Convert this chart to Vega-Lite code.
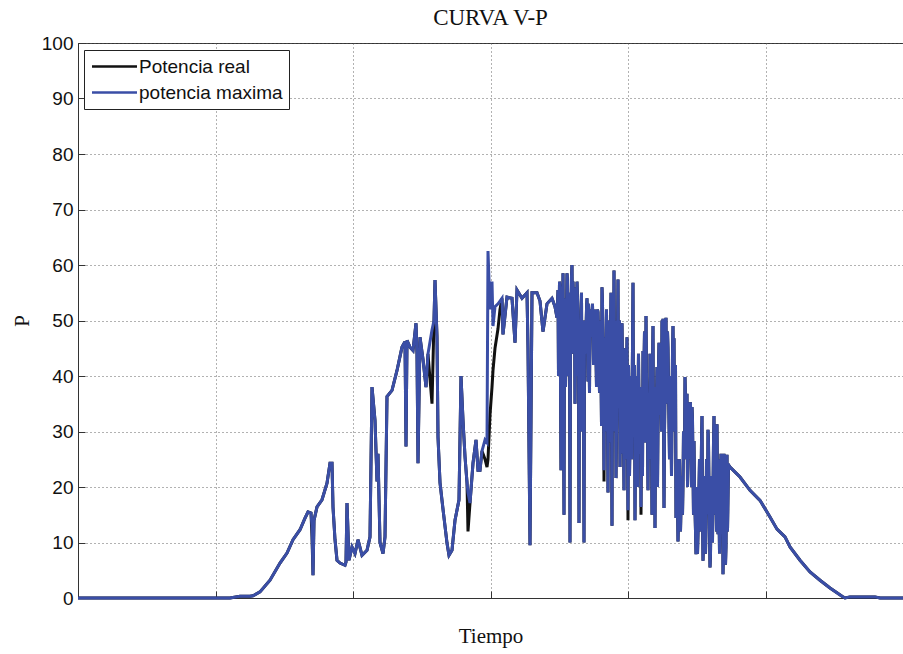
{
  "$schema": "https://vega.github.io/schema/vega-lite/v6.json",
  "width": 825,
  "height": 555,
  "autosize": {"type": "none"},
  "padding": {"left": 78, "top": 43, "right": 0, "bottom": 56},
  "background": "white",
  "title": {"text": "CURVA V-P", "font": "Liberation Serif", "fontSize": 23, "fontWeight": "normal", "color": "#111", "anchor": "middle", "offset": 4},
  "config": {
    "view": {"stroke": "#333", "strokeWidth": 1},
    "axis": {
      "domainColor": "#333", "tickColor": "#333", "gridColor": "#555", "gridDash": [1, 3], "gridWidth": 1, "gridOpacity": 0.9,
      "labelFont": "Liberation Sans", "labelFontSize": 19, "labelColor": "#111",
      "titleFont": "Liberation Serif", "titleFontSize": 21, "titleFontWeight": "normal", "titleColor": "#111"
    },
    "legend": {
      "orient": "none", "legendX": 6, "legendY": 7, "fillColor": "white", "strokeColor": "#222", "padding": 6,
      "labelFont": "Liberation Sans", "labelFontSize": 19, "labelColor": "#111", "labelOffset": 14,
      "symbolType": "M-2.5,0H2.5", "symbolSize": 324, "symbolOffset": 14, "symbolStrokeWidth": 2.5, "rowPadding": 5, "title": null
    }
  },
  "data": {"values": [
    {"t": 0, "real": 0, "maxima": 0},
    {"t": 304, "real": 0, "maxima": 0},
    {"t": 324, "real": 0.3, "maxima": 0.3},
    {"t": 344, "real": 0.3, "maxima": 0.3},
    {"t": 350, "real": 0.4, "maxima": 0.4},
    {"t": 364, "real": 1.1, "maxima": 1.1},
    {"t": 384, "real": 3.2, "maxima": 3.2},
    {"t": 404, "real": 6.3, "maxima": 6.3},
    {"t": 418, "real": 8.1, "maxima": 8.1},
    {"t": 430, "real": 10.5, "maxima": 10.5},
    {"t": 444, "real": 12.3, "maxima": 12.3},
    {"t": 454, "real": 14.4, "maxima": 14.4},
    {"t": 460, "real": 15.5, "maxima": 15.5},
    {"t": 466, "real": 15.3, "maxima": 15.3},
    {"t": 468, "real": 11, "maxima": 13},
    {"t": 470, "real": 4.1, "maxima": 4.1},
    {"t": 472, "real": 14, "maxima": 14},
    {"t": 478, "real": 16.4, "maxima": 16.4},
    {"t": 488, "real": 17.7, "maxima": 17.7},
    {"t": 498, "real": 20.7, "maxima": 20.7},
    {"t": 504, "real": 24.3, "maxima": 24.3},
    {"t": 508, "real": 24.3, "maxima": 24.3},
    {"t": 510, "real": 16.4, "maxima": 16.4},
    {"t": 514, "real": 10.5, "maxima": 10.5},
    {"t": 518, "real": 6.8, "maxima": 6.8},
    {"t": 524, "real": 6.3, "maxima": 6.3},
    {"t": 534, "real": 5.9, "maxima": 5.9},
    {"t": 536, "real": 6.5, "maxima": 6.5},
    {"t": 538, "real": 17.1, "maxima": 17.1},
    {"t": 542, "real": 6.8, "maxima": 6.8},
    {"t": 548, "real": 9.2, "maxima": 9.2},
    {"t": 554, "real": 8, "maxima": 8},
    {"t": 560, "real": 10.5, "maxima": 10.5},
    {"t": 568, "real": 7.7, "maxima": 7.7},
    {"t": 578, "real": 8.6, "maxima": 8.6},
    {"t": 584, "real": 11, "maxima": 11},
    {"t": 588, "real": 38, "maxima": 38},
    {"t": 594, "real": 32, "maxima": 32},
    {"t": 598, "real": 21, "maxima": 21},
    {"t": 600, "real": 26, "maxima": 26},
    {"t": 604, "real": 10, "maxima": 10},
    {"t": 610, "real": 8, "maxima": 8},
    {"t": 614, "real": 11, "maxima": 11},
    {"t": 618, "real": 36.3, "maxima": 36.3},
    {"t": 628, "real": 37.4, "maxima": 37.4},
    {"t": 638, "real": 41, "maxima": 41},
    {"t": 648, "real": 45.2, "maxima": 45.2},
    {"t": 654, "real": 46.2, "maxima": 46.2},
    {"t": 656, "real": 27.3, "maxima": 27.3},
    {"t": 658, "real": 46.4, "maxima": 46.4},
    {"t": 664, "real": 45.2, "maxima": 45.2},
    {"t": 670, "real": 44.6, "maxima": 44.6},
    {"t": 676, "real": 49.5, "maxima": 49.5},
    {"t": 678, "real": 44, "maxima": 44},
    {"t": 680, "real": 24.3, "maxima": 24.3},
    {"t": 684, "real": 47, "maxima": 47},
    {"t": 690, "real": 43, "maxima": 43},
    {"t": 696, "real": 38, "maxima": 38},
    {"t": 700, "real": 44, "maxima": 44},
    {"t": 708, "real": 35, "maxima": 48.3},
    {"t": 712, "real": 50, "maxima": 50},
    {"t": 714, "real": 57.3, "maxima": 57.3},
    {"t": 718, "real": 47, "maxima": 47},
    {"t": 720, "real": 29, "maxima": 29},
    {"t": 724, "real": 20.8, "maxima": 20.8},
    {"t": 730, "real": 16, "maxima": 16},
    {"t": 738, "real": 9.9, "maxima": 9.9},
    {"t": 742, "real": 7.7, "maxima": 7.7},
    {"t": 748, "real": 8.6, "maxima": 8.6},
    {"t": 754, "real": 14, "maxima": 14},
    {"t": 762, "real": 17.7, "maxima": 17.7},
    {"t": 766, "real": 40, "maxima": 40},
    {"t": 770, "real": 32, "maxima": 32},
    {"t": 774, "real": 25.5, "maxima": 25.5},
    {"t": 778, "real": 20.8, "maxima": 20.8},
    {"t": 780, "real": 12, "maxima": 19},
    {"t": 784, "real": 17.1, "maxima": 17.1},
    {"t": 790, "real": 24.3, "maxima": 24.3},
    {"t": 796, "real": 28.5, "maxima": 28.5},
    {"t": 800, "real": 23, "maxima": 23},
    {"t": 804, "real": 23, "maxima": 23},
    {"t": 808, "real": 26.5, "maxima": 26.5},
    {"t": 814, "real": 25, "maxima": 28.5},
    {"t": 818, "real": 23.6, "maxima": 28},
    {"t": 820, "real": 25, "maxima": 62.5},
    {"t": 824, "real": 33, "maxima": 52},
    {"t": 828, "real": 38, "maxima": 57},
    {"t": 830, "real": 41, "maxima": 49},
    {"t": 834, "real": 45, "maxima": 52.5},
    {"t": 840, "real": 48.5, "maxima": 53},
    {"t": 844, "real": 52, "maxima": 53.5},
    {"t": 848, "real": 54, "maxima": 54},
    {"t": 850, "real": 47.5, "maxima": 47.5},
    {"t": 858, "real": 54.2, "maxima": 54.2},
    {"t": 868, "real": 54, "maxima": 54},
    {"t": 874, "real": 46, "maxima": 46},
    {"t": 878, "real": 55.5, "maxima": 55.5},
    {"t": 888, "real": 54, "maxima": 54},
    {"t": 898, "real": 55, "maxima": 55},
    {"t": 900, "real": 45, "maxima": 45},
    {"t": 904, "real": 9.5, "maxima": 9.5},
    {"t": 908, "real": 55, "maxima": 55},
    {"t": 918, "real": 55, "maxima": 55},
    {"t": 924, "real": 53.5, "maxima": 53.5},
    {"t": 930, "real": 48, "maxima": 48},
    {"t": 938, "real": 53, "maxima": 53},
    {"t": 948, "real": 54, "maxima": 54},
    {"t": 954, "real": 52.5, "maxima": 52.5},
    {"t": 958, "real": 50.5, "maxima": 50.5},
    {"t": 960, "real": 55.5, "maxima": 55.5},
    {"t": 964, "real": 56, "maxima": 56},
    {"t": 966, "real": 23, "maxima": 23},
    {"t": 968, "real": 39, "maxima": 39},
    {"t": 970, "real": 58.5, "maxima": 58.5},
    {"t": 972, "real": 15, "maxima": 15},
    {"t": 974, "real": 40, "maxima": 40},
    {"t": 978, "real": 58.5, "maxima": 58.5},
    {"t": 980, "real": 40, "maxima": 40},
    {"t": 984, "real": 10, "maxima": 10},
    {"t": 988, "real": 60, "maxima": 60},
    {"t": 990, "real": 57, "maxima": 57},
    {"t": 994, "real": 35, "maxima": 35},
    {"t": 998, "real": 57, "maxima": 57},
    {"t": 1002, "real": 13.5, "maxima": 13.5},
    {"t": 1006, "real": 52, "maxima": 52},
    {"t": 1008, "real": 30, "maxima": 30},
    {"t": 1012, "real": 10, "maxima": 10},
    {"t": 1018, "real": 54, "maxima": 54},
    {"t": 1020, "real": 39, "maxima": 39},
    {"t": 1024, "real": 52, "maxima": 52},
    {"t": 1028, "real": 51.5, "maxima": 51.5},
    {"t": 1034, "real": 44.5, "maxima": 44.5},
    {"t": 1040, "real": 51.5, "maxima": 51.5},
    {"t": 1044, "real": 42, "maxima": 42},
    {"t": 1048, "real": 56, "maxima": 56},
    {"t": 1052, "real": 21, "maxima": 23},
    {"t": 1058, "real": 40, "maxima": 40},
    {"t": 1060, "real": 19, "maxima": 19},
    {"t": 1066, "real": 55, "maxima": 55},
    {"t": 1068, "real": 13, "maxima": 13},
    {"t": 1072, "real": 59, "maxima": 59},
    {"t": 1076, "real": 21.6, "maxima": 21.6},
    {"t": 1080, "real": 57.4, "maxima": 57.4},
    {"t": 1084, "real": 23.6, "maxima": 23.6},
    {"t": 1088, "real": 49.5, "maxima": 49.5},
    {"t": 1092, "real": 19.4, "maxima": 19.4},
    {"t": 1098, "real": 47, "maxima": 47},
    {"t": 1100, "real": 14, "maxima": 15.8},
    {"t": 1106, "real": 40, "maxima": 40},
    {"t": 1110, "real": 56.8, "maxima": 56.8},
    {"t": 1114, "real": 14, "maxima": 14},
    {"t": 1120, "real": 36, "maxima": 36},
    {"t": 1126, "real": 15, "maxima": 16.4},
    {"t": 1130, "real": 44.5, "maxima": 44.5},
    {"t": 1136, "real": 50.8, "maxima": 50.8},
    {"t": 1140, "real": 19.4, "maxima": 19.4},
    {"t": 1144, "real": 44, "maxima": 44},
    {"t": 1148, "real": 15, "maxima": 15},
    {"t": 1150, "real": 49, "maxima": 49},
    {"t": 1154, "real": 12.6, "maxima": 12.6},
    {"t": 1158, "real": 41.6, "maxima": 41.6},
    {"t": 1162, "real": 46, "maxima": 46},
    {"t": 1164, "real": 33, "maxima": 33},
    {"t": 1168, "real": 50, "maxima": 50},
    {"t": 1170, "real": 50.3, "maxima": 50.3},
    {"t": 1172, "real": 16.2, "maxima": 16.2},
    {"t": 1176, "real": 50.5, "maxima": 50.5},
    {"t": 1180, "real": 45, "maxima": 45},
    {"t": 1186, "real": 31, "maxima": 31},
    {"t": 1190, "real": 49, "maxima": 49},
    {"t": 1192, "real": 46.8, "maxima": 46.8},
    {"t": 1196, "real": 14.4, "maxima": 14.4},
    {"t": 1200, "real": 10.2, "maxima": 10.2},
    {"t": 1206, "real": 16.3, "maxima": 16.3},
    {"t": 1210, "real": 20.6, "maxima": 20.6},
    {"t": 1214, "real": 39.8, "maxima": 39.8},
    {"t": 1218, "real": 36.8, "maxima": 36.8},
    {"t": 1224, "real": 35, "maxima": 35},
    {"t": 1228, "real": 34.4, "maxima": 34.4},
    {"t": 1232, "real": 28.3, "maxima": 28.3},
    {"t": 1236, "real": 7.9, "maxima": 7.9},
    {"t": 1240, "real": 11.5, "maxima": 11.5},
    {"t": 1244, "real": 20, "maxima": 20},
    {"t": 1248, "real": 32.8, "maxima": 32.8},
    {"t": 1250, "real": 6.7, "maxima": 6.7},
    {"t": 1256, "real": 12.7, "maxima": 12.7},
    {"t": 1260, "real": 30.3, "maxima": 30.3},
    {"t": 1264, "real": 5.5, "maxima": 5.5},
    {"t": 1268, "real": 17.5, "maxima": 17.5},
    {"t": 1272, "real": 32.8, "maxima": 32.8},
    {"t": 1278, "real": 31.3, "maxima": 31.3},
    {"t": 1280, "real": 11.5, "maxima": 11.5},
    {"t": 1286, "real": 26, "maxima": 26},
    {"t": 1290, "real": 4.3, "maxima": 4.3},
    {"t": 1292, "real": 26, "maxima": 26},
    {"t": 1296, "real": 9.2, "maxima": 9.2},
    {"t": 1298, "real": 25.8, "maxima": 25.8},
    {"t": 1304, "real": 23.6, "maxima": 23.6},
    {"t": 1324, "real": 21.8, "maxima": 21.8},
    {"t": 1344, "real": 19.4, "maxima": 19.4},
    {"t": 1364, "real": 17.6, "maxima": 17.6},
    {"t": 1384, "real": 14.6, "maxima": 14.6},
    {"t": 1398, "real": 12.4, "maxima": 12.4},
    {"t": 1414, "real": 11, "maxima": 11},
    {"t": 1424, "real": 9.2, "maxima": 9.2},
    {"t": 1444, "real": 6.8, "maxima": 6.8},
    {"t": 1464, "real": 4.7, "maxima": 4.7},
    {"t": 1484, "real": 3.2, "maxima": 3.2},
    {"t": 1504, "real": 1.8, "maxima": 1.8},
    {"t": 1528, "real": 0.3, "maxima": 0.3},
    {"t": 1534, "real": 0, "maxima": 0},
    {"t": 1544, "real": 0.2, "maxima": 0.2},
    {"t": 1594, "real": 0.2, "maxima": 0.2},
    {"t": 1604, "real": 0, "maxima": 0},
    {"t": 1650, "real": 0, "maxima": 0},
    {"t": 961, "real": 40, "maxima": 40}, {"t": 963, "real": 57, "maxima": 57}, {"t": 967, "real": 47, "maxima": 47},
    {"t": 969, "real": 34, "maxima": 34}, {"t": 973, "real": 54, "maxima": 54}, {"t": 975, "real": 38, "maxima": 38},
    {"t": 977, "real": 51, "maxima": 51}, {"t": 979, "real": 57, "maxima": 57}, {"t": 981, "real": 42, "maxima": 42},
    {"t": 983, "real": 55, "maxima": 55}, {"t": 985, "real": 46, "maxima": 46}, {"t": 987, "real": 58, "maxima": 58},
    {"t": 989, "real": 44, "maxima": 44}, {"t": 991, "real": 53, "maxima": 53}, {"t": 993, "real": 56, "maxima": 56},
    {"t": 995, "real": 48, "maxima": 48}, {"t": 997, "real": 40, "maxima": 40}, {"t": 999, "real": 54, "maxima": 54},
    {"t": 1001, "real": 44, "maxima": 44}, {"t": 1003, "real": 49, "maxima": 49}, {"t": 1005, "real": 41, "maxima": 41},
    {"t": 1007, "real": 55, "maxima": 55}, {"t": 1009, "real": 47, "maxima": 47}, {"t": 1011, "real": 38, "maxima": 38},
    {"t": 1013, "real": 50, "maxima": 50}, {"t": 1015, "real": 44, "maxima": 44}, {"t": 1017, "real": 52, "maxima": 52},
    {"t": 1019, "real": 46, "maxima": 46}, {"t": 1021, "real": 53, "maxima": 53}, {"t": 1023, "real": 37, "maxima": 37},
    {"t": 1025, "real": 51, "maxima": 51}, {"t": 1027, "real": 47, "maxima": 47}, {"t": 1029, "real": 53, "maxima": 53},
    {"t": 1031, "real": 42, "maxima": 42}, {"t": 1033, "real": 52, "maxima": 52}, {"t": 1035, "real": 49, "maxima": 49},
    {"t": 1037, "real": 38, "maxima": 38}, {"t": 1039, "real": 52, "maxima": 52}, {"t": 1041, "real": 47, "maxima": 47},
    {"t": 1043, "real": 37, "maxima": 37}, {"t": 1045, "real": 50, "maxima": 50}, {"t": 1047, "real": 31, "maxima": 31},
    {"t": 1049, "real": 53, "maxima": 53}, {"t": 1051, "real": 40, "maxima": 40}, {"t": 1053, "real": 47, "maxima": 47},
    {"t": 1055, "real": 30, "maxima": 30}, {"t": 1057, "real": 52, "maxima": 52}, {"t": 1059, "real": 34, "maxima": 34},
    {"t": 1061, "real": 50, "maxima": 50}, {"t": 1063, "real": 28, "maxima": 28}, {"t": 1065, "real": 47, "maxima": 47},
    {"t": 1067, "real": 35, "maxima": 35}, {"t": 1069, "real": 45, "maxima": 45}, {"t": 1071, "real": 30, "maxima": 30},
    {"t": 1073, "real": 42, "maxima": 42}, {"t": 1075, "real": 50, "maxima": 50}, {"t": 1077, "real": 30, "maxima": 30},
    {"t": 1079, "real": 45, "maxima": 45}, {"t": 1081, "real": 35, "maxima": 35}, {"t": 1083, "real": 50, "maxima": 50},
    {"t": 1085, "real": 40, "maxima": 40}, {"t": 1087, "real": 26, "maxima": 26}, {"t": 1089, "real": 42, "maxima": 42},
    {"t": 1091, "real": 30, "maxima": 30}, {"t": 1093, "real": 45, "maxima": 45}, {"t": 1095, "real": 25, "maxima": 25},
    {"t": 1097, "real": 38, "maxima": 38}, {"t": 1099, "real": 30, "maxima": 30}, {"t": 1101, "real": 42, "maxima": 42},
    {"t": 1103, "real": 22, "maxima": 22}, {"t": 1105, "real": 35, "maxima": 35}, {"t": 1107, "real": 25, "maxima": 25},
    {"t": 1109, "real": 45, "maxima": 45}, {"t": 1111, "real": 30, "maxima": 30}, {"t": 1113, "real": 42, "maxima": 42},
    {"t": 1115, "real": 28, "maxima": 28}, {"t": 1117, "real": 40, "maxima": 40}, {"t": 1119, "real": 20, "maxima": 20},
    {"t": 1121, "real": 44, "maxima": 44}, {"t": 1123, "real": 26, "maxima": 26}, {"t": 1125, "real": 38, "maxima": 38},
    {"t": 1127, "real": 30, "maxima": 30}, {"t": 1129, "real": 22, "maxima": 22}, {"t": 1131, "real": 36, "maxima": 36},
    {"t": 1133, "real": 48, "maxima": 48}, {"t": 1135, "real": 28, "maxima": 28}, {"t": 1137, "real": 40, "maxima": 40},
    {"t": 1139, "real": 30, "maxima": 30}, {"t": 1141, "real": 35, "maxima": 35}, {"t": 1143, "real": 25, "maxima": 25},
    {"t": 1145, "real": 38, "maxima": 38}, {"t": 1147, "real": 30, "maxima": 30}, {"t": 1149, "real": 42, "maxima": 42},
    {"t": 1151, "real": 25, "maxima": 25}, {"t": 1153, "real": 38, "maxima": 38}, {"t": 1155, "real": 28, "maxima": 28},
    {"t": 1157, "real": 35, "maxima": 35}, {"t": 1159, "real": 20, "maxima": 20}, {"t": 1161, "real": 42, "maxima": 42},
    {"t": 1163, "real": 38, "maxima": 38}, {"t": 1165, "real": 44, "maxima": 44}, {"t": 1167, "real": 30, "maxima": 30},
    {"t": 1169, "real": 42, "maxima": 42}, {"t": 1171, "real": 35, "maxima": 35}, {"t": 1173, "real": 30, "maxima": 30},
    {"t": 1175, "real": 44, "maxima": 44}, {"t": 1177, "real": 35, "maxima": 35}, {"t": 1179, "real": 48, "maxima": 48},
    {"t": 1181, "real": 38, "maxima": 38}, {"t": 1183, "real": 25, "maxima": 25}, {"t": 1185, "real": 40, "maxima": 40},
    {"t": 1187, "real": 22, "maxima": 22}, {"t": 1189, "real": 44, "maxima": 44}, {"t": 1191, "real": 38, "maxima": 38},
    {"t": 1193, "real": 30, "maxima": 30}, {"t": 1195, "real": 42, "maxima": 42}, {"t": 1197, "real": 25, "maxima": 25},
    {"t": 1199, "real": 18, "maxima": 18}, {"t": 1201, "real": 14, "maxima": 14}, {"t": 1203, "real": 25, "maxima": 25},
    {"t": 1205, "real": 12, "maxima": 12}, {"t": 1207, "real": 22, "maxima": 22}, {"t": 1209, "real": 15, "maxima": 15},
    {"t": 1211, "real": 30, "maxima": 30}, {"t": 1213, "real": 25, "maxima": 25}, {"t": 1215, "real": 36, "maxima": 36},
    {"t": 1217, "real": 30, "maxima": 30}, {"t": 1219, "real": 20, "maxima": 20}, {"t": 1221, "real": 33, "maxima": 33},
    {"t": 1223, "real": 25, "maxima": 25}, {"t": 1225, "real": 35, "maxima": 35}, {"t": 1227, "real": 20, "maxima": 20},
    {"t": 1229, "real": 32, "maxima": 32}, {"t": 1231, "real": 15, "maxima": 15}, {"t": 1233, "real": 20, "maxima": 20},
    {"t": 1235, "real": 12, "maxima": 12}, {"t": 1237, "real": 20, "maxima": 20}, {"t": 1239, "real": 8, "maxima": 8},
    {"t": 1241, "real": 15, "maxima": 15}, {"t": 1243, "real": 25, "maxima": 25}, {"t": 1245, "real": 12, "maxima": 12},
    {"t": 1247, "real": 28, "maxima": 28}, {"t": 1249, "real": 15, "maxima": 15}, {"t": 1251, "real": 10, "maxima": 10},
    {"t": 1253, "real": 22, "maxima": 22}, {"t": 1255, "real": 8, "maxima": 8}, {"t": 1257, "real": 25, "maxima": 25},
    {"t": 1259, "real": 15, "maxima": 15}, {"t": 1261, "real": 28, "maxima": 28}, {"t": 1263, "real": 12, "maxima": 12},
    {"t": 1265, "real": 8, "maxima": 8}, {"t": 1267, "real": 22, "maxima": 22}, {"t": 1269, "real": 10, "maxima": 10},
    {"t": 1271, "real": 28, "maxima": 28}, {"t": 1273, "real": 15, "maxima": 15}, {"t": 1275, "real": 30, "maxima": 30},
    {"t": 1277, "real": 12, "maxima": 12}, {"t": 1279, "real": 20, "maxima": 20}, {"t": 1281, "real": 25, "maxima": 25},
    {"t": 1283, "real": 8, "maxima": 8}, {"t": 1285, "real": 20, "maxima": 20}, {"t": 1287, "real": 15, "maxima": 15},
    {"t": 1289, "real": 25, "maxima": 25}, {"t": 1291, "real": 10, "maxima": 10}, {"t": 1293, "real": 20, "maxima": 20},
    {"t": 1295, "real": 6, "maxima": 6}, {"t": 1297, "real": 22, "maxima": 22}, {"t": 1299, "real": 12, "maxima": 12},
    {"t": 1301, "real": 24, "maxima": 24}
  ]},
  "encoding": {
    "x": {
      "field": "t", "type": "quantitative",
      "scale": {"domain": [0, 1650], "nice": false, "zero": false},
      "axis": {"title": "Tiempo", "values": [275, 550, 825, 1100, 1375], "labels": false, "tickSize": -7, "grid": true, "titlePadding": 27}
    }
  },
  "layer": [
    {
      "mark": {"type": "line", "strokeWidth": 3, "interpolate": "linear"},
      "encoding": {
        "y": {
          "field": "real", "type": "quantitative",
          "scale": {"domain": [0, 100], "nice": false},
          "axis": {"title": "P", "values": [0, 10, 20, 30, 40, 50, 60, 70, 80, 90, 100], "tickSize": -7, "labelPadding": 12, "titlePadding": 9, "grid": true}
        },
        "color": {"datum": "Potencia real", "type": "nominal",
          "scale": {"domain": ["Potencia real", "potencia maxima"], "range": ["#111111", "#3a4ea6"]}}
      }
    },
    {
      "mark": {"type": "line", "strokeWidth": 3, "interpolate": "linear"},
      "encoding": {
        "y": {"field": "maxima", "type": "quantitative"},
        "color": {"datum": "potencia maxima", "type": "nominal"}
      }
    }
  ]
}
